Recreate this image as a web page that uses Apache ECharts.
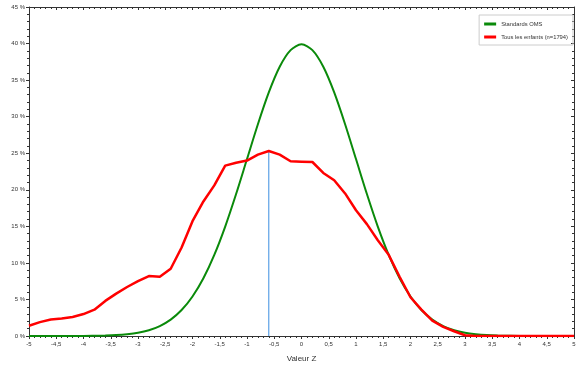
<!DOCTYPE html>
<html><head><meta charset="utf-8">
<script src="https://cdn.jsdelivr.net/npm/echarts@6/dist/echarts.min.js"></script>
<style>html,body{margin:0;padding:0;background:#fff}#c{width:579px;height:371px}</style>
</head><body><div id="c"></div>
<script>
var zValues = [-5,-4.8,-4.6,-4.4,-4.2,-4,-3.8,-3.6,-3.4,-3.2,-3,-2.8,-2.6,-2.4,-2.2,-2,-1.8,-1.6,-1.4,-1.2,-1,-0.8,-0.6,-0.4,-0.2,0,0.2,0.4,0.6,0.8,1,1.2,1.4,1.6,1.8,2,2.2,2.4,2.6,2.8,3,3.2,3.4,3.6,3.8,4,4.2,4.4,4.6,4.8,5];
var whoStandard = [0,0,0,0,0.01,0.01,0.03,0.06,0.12,0.24,0.44,0.79,1.36,2.24,3.55,5.40,7.90,11.09,14.97,19.42,24.20,28.97,33.32,36.83,39.10,39.89,39.10,36.83,33.32,28.97,24.20,19.42,14.97,11.09,7.90,5.40,3.55,2.24,1.36,0.79,0.44,0.24,0.12,0.06,0.03,0.01,0.01,0,0,0,0];
var allChildren = [1.4,1.9,2.25,2.4,2.6,3.0,3.6,4.8,5.8,6.7,7.5,8.2,8.1,9.2,12.1,15.7,18.4,20.6,23.3,23.7,24.0,24.8,25.3,24.8,23.9,23.85,23.8,22.3,21.3,19.5,17.2,15.3,13.1,11.1,8.1,5.3,3.6,2.1,1.25,0.65,0.1,0,0,0,0,0,0,0,0,0,0];
var meanZ = -0.6;
var meanTop = 25.3;
var seriesNames = ['Standards OMS', 'Tous les enfants (n=1794)'];
var xTitle = 'Valeur Z';
var yTitle = 'Enfants';

function pairs(xs, ys){ return xs.map(function(x,i){ return [x, ys[i]]; }); }
var font = 'Liberation Sans, Arial, sans-serif';
var axisCol = '#333';
var chart = echarts.init(document.getElementById('c'));
chart.setOption({
  animation: false,
  backgroundColor: '#fff',
  textStyle: {fontFamily: font},
  grid: {left: 29, right: 5, top: 7, bottom: 35, containLabel: false, outerBoundsMode: 'none'},
  legend: {
    data: seriesNames, orient: 'vertical', right: 6, top: 15,
    borderColor: '#ccc', borderWidth: 1, padding: [6, 5, 5, 5],
    itemWidth: 12, itemHeight: 3, itemGap: 7,
    textStyle: {fontSize: 5.8, color: '#333', fontFamily: font},
    icon: 'rect'
  },
  xAxis: [{
    type: 'value', min: -5, max: 5, interval: 0.5,
    name: xTitle, nameLocation: 'middle', nameGap: 19,
    nameTextStyle: {fontSize: 8, color: '#333'},
    axisLine: {show: true, onZero: false, lineStyle: {color: axisCol, width: 1}},
    axisTick: {show: true, length: 3, lineStyle: {color: axisCol}},
    minorTick: {show: true, splitNumber: 5, length: 2, lineStyle: {color: axisCol}},
    splitLine: {show: false},
    axisLabel: {fontSize: 6, color: '#333', margin: 5,
      formatter: function(v){ return String(v).replace('.', ','); }}
  },{
    type: 'value', min: -5, max: 5, interval: 0.5, position: 'top',
    axisLine: {show: true, onZero: false, lineStyle: {color: axisCol, width: 1}},
    axisTick: {show: true, inside: true, length: 3, lineStyle: {color: axisCol}},
    minorTick: {show: true, splitNumber: 5, length: 2, lineStyle: {color: axisCol}},
    splitLine: {show: false}, axisLabel: {show: false}
  }],
  yAxis: [{
    type: 'value', min: 0, max: 45, interval: 5,
    name: yTitle, nameLocation: 'middle', nameGap: 20,
    nameTextStyle: {fontSize: 7, color: '#333'},
    axisLine: {show: true, onZero: false, lineStyle: {color: axisCol, width: 1}},
    axisTick: {show: true, length: 3, lineStyle: {color: axisCol}},
    minorTick: {show: true, splitNumber: 5, length: 2, lineStyle: {color: axisCol}},
    splitLine: {show: false},
    axisLabel: {fontSize: 6, color: '#333', margin: 4, formatter: '{value} %'}
  },{
    type: 'value', min: 0, max: 45, interval: 5, position: 'right',
    axisLine: {show: true, onZero: false, lineStyle: {color: axisCol, width: 1}},
    axisTick: {show: true, inside: true, length: 3, lineStyle: {color: axisCol}},
    minorTick: {show: true, splitNumber: 5, length: 2, lineStyle: {color: axisCol}},
    splitLine: {show: false}, axisLabel: {show: false}
  }],
  series: [{
    name: seriesNames[0], type: 'line', data: pairs(zValues, whoStandard),
    smooth: 0.3, showSymbol: false, symbol: 'none',
    lineStyle: {color: '#0a8a0a', width: 2}, itemStyle: {color: '#0a8a0a'}, z: 2
  },{
    name: seriesNames[1], type: 'line', data: pairs(zValues, allChildren),
    smooth: false, showSymbol: false, symbol: 'none',
    lineStyle: {color: '#ff0000', width: 2.5}, itemStyle: {color: '#ff0000'}, z: 3
  },{
    name: 'moyenne', type: 'line', data: [[meanZ, 0], [meanZ, meanTop]],
    showSymbol: false, symbol: 'none',
    lineStyle: {color: '#3b8ee0', width: 1}, z: 1
  }]
});
</script></body></html>
